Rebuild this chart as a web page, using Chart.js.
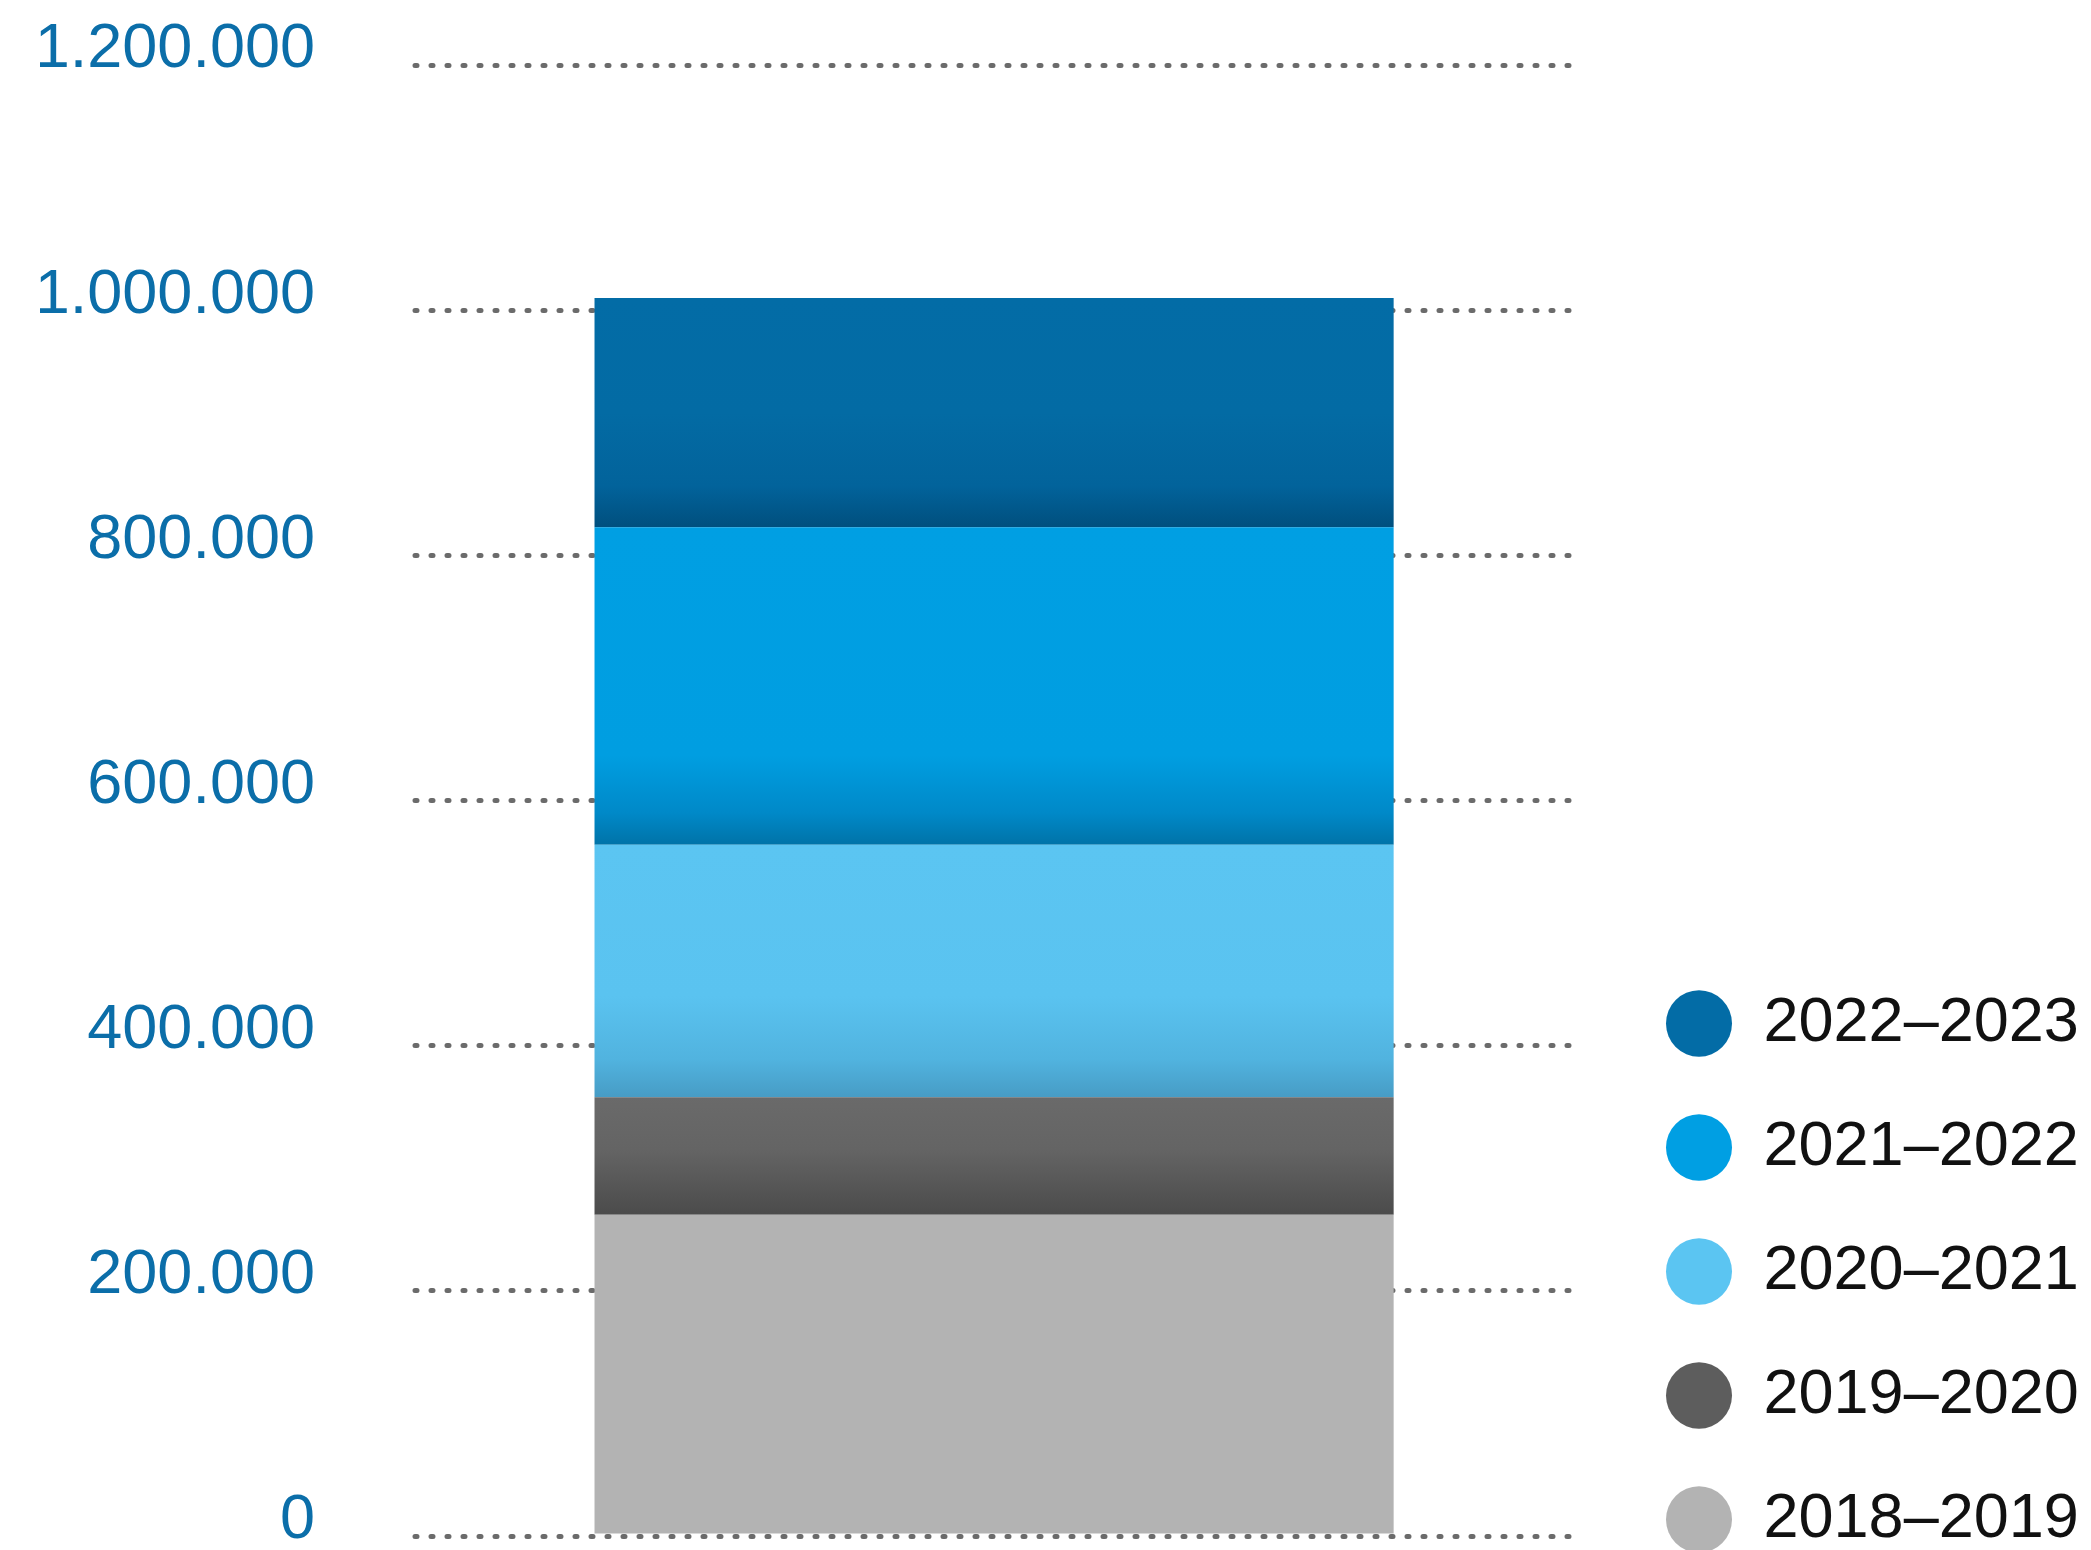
<!DOCTYPE html>
<html lang="de">
<head>
<meta charset="utf-8">
<title>Saisonen</title>
<script src="https://cdn.jsdelivr.net/npm/chart.js@4.4.1/dist/chart.umd.min.js"></script>
<style>
  html, body { margin: 0; padding: 0; background: #fff; }
  #wrap { width: 2091px; height: 1550px; position: relative; }
</style>
</head>
<body>
<div id="wrap"><canvas id="myChart"></canvas></div>
<script>
const categories = [""];
const seasons = ["2018–2019", "2019–2020", "2020–2021", "2021–2022", "2022–2023"];
const season1819 = [262000];
const season1920 = [96000];
const season2021 = [206000];
const season2122 = [259000];
const season2223 = [187000];
const yTickLabels = ["0", "200.000", "400.000", "600.000", "800.000", "1.000.000", "1.200.000"];

const seriesValues = [season1819, season1920, season2021, season2122, season2223];

// flat colours (legend) and shading towards the bottom of each segment
const flatColors = ["#b3b3b3", "#5d5d5d", "#5bc5f2", "#009fe3", "#036ca6"];
const shadeStops = [
  null,
  [[0, "#6a6a6a"], [0.45, "#646464"], [1, "#4b4b4b"]],
  [[0, "#5bc5f2"], [0.6, "#5ac3f0"], [0.85, "#51b3df"], [1, "#479cc5"]],
  [[0, "#009fe3"], [0.72, "#009ee1"], [0.9, "#0089c8"], [1, "#0073a8"]],
  [[0, "#036ca6"], [0.5, "#036ba4"], [0.82, "#02639b"], [1, "#004f7e"]],
];

function segmentFill(ctx) {
  const i = ctx.datasetIndex;
  const chart = ctx.chart;
  const stops = shadeStops[i];
  if (!chart.chartArea || !stops) return flatColors[i];
  let below = 0;
  for (let k = 0; k < i; k++) below += seriesValues[k][0];
  const y = chart.scales.y;
  const top = y.getPixelForValue(below + seriesValues[i][0]);
  const bottom = y.getPixelForValue(below);
  const g = chart.ctx.createLinearGradient(0, top, 0, bottom);
  stops.forEach((s) => g.addColorStop(s[0], s[1]));
  return g;
}

// legend sits at the lower right, next to the plot
const legendPlacement = {
  id: "legendPlacement",
  beforeDraw(chart) {
    chart.ctx.lineCap = "round";
  },
  afterLayout(chart, args, opts) {
    const legend = chart.legend;
    const w = legend.right - legend.left;
    const h = legend.bottom - legend.top;
    legend.left = opts.left;
    legend.right = opts.left + w;
    legend.bottom = opts.bottom;
    legend.top = opts.bottom - h;
  },
};

const fontFamily = "'Liberation Sans', Arial, Helvetica, sans-serif";

const datasets = seasons.map((name, i) => ({
  label: name,
  data: seriesValues[i],
  backgroundColor: segmentFill,
  borderWidth: 0,
  barPercentage: 0.69,
  categoryPercentage: 1,
}));

const config = {
  type: "bar",
  data: { labels: categories, datasets: datasets },
  plugins: [legendPlacement],
  options: {
    responsive: true,
    maintainAspectRatio: false,
    animation: false,
    layout: { padding: { left: 40, right: 34, top: 65, bottom: 14 } },
    scales: {
      x: { stacked: true, display: false },
      y: {
        stacked: true,
        min: 0,
        max: 1200000,
        afterFit: (scale) => {
          scale.width = 375;
        },
        ticks: {
          stepSize: 200000,
          padding: 0,
          labelOffset: -15,
          color: "#0b6ea9",
          font: { family: fontFamily, size: 63, lineHeight: 0.3 },
          callback: (value, index) => yTickLabels[index],
        },
        grid: {
          color: "#6b6b6b",
          lineWidth: 5,
          drawTicks: true,
          tickLength: 100,
          tickColor: "rgba(0,0,0,0)",
        },
        border: { display: false, dash: [2, 14] },
      },
    },
    plugins: {
      tooltip: { enabled: false },
      legendPlacement: { left: 1605, bottom: 1612 },
      legend: {
        position: "right",
        align: "end",
        reverse: true,
        labels: {
          usePointStyle: true,
          pointStyle: "circle",
          boxHeight: 47,
          pointStyleWidth: 66,
          padding: 61,
          color: "#111111",
          font: { family: fontFamily, size: 63 },
          generateLabels(chart) {
            const items = Chart.defaults.plugins.legend.labels.generateLabels(chart);
            items.forEach((item) => {
              item.fillStyle = flatColors[item.datasetIndex];
              item.strokeStyle = flatColors[item.datasetIndex];
              item.lineWidth = 0;
              item.pointStyle = "circle";
            });
            return items;
          },
        },
      },
    },
  },
};

const myChart = new Chart(document.getElementById("myChart"), config);
</script>
</body>
</html>
